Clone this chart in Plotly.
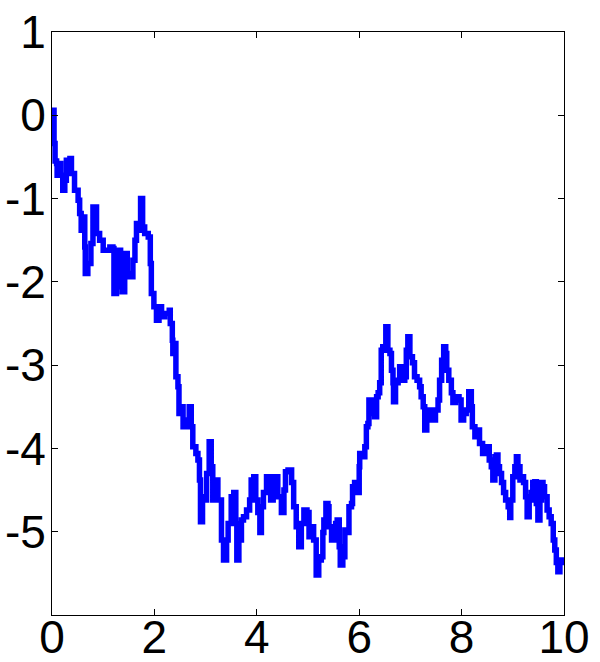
import plotly.graph_objects as go

# Path samples (time, value)
t_vals = [0.00, 0.02, 0.04, 0.06, 0.09, 0.10, 0.15, 0.17, 0.21, 0.25, 0.28, 0.35, 0.38, 0.44, 0.51, 0.54,
          0.57, 0.61, 0.64, 0.65, 0.70, 0.76, 0.80, 0.85, 0.87, 0.93, 1.00, 1.06, 1.13, 1.19, 1.21, 1.26,
          1.29, 1.34, 1.37, 1.42, 1.47, 1.52, 1.58, 1.62, 1.65, 1.70, 1.73, 1.77, 1.81, 1.88, 1.92, 1.94,
          1.99, 2.04, 2.09, 2.14, 2.20, 2.29, 2.31, 2.35, 2.36, 2.40, 2.42, 2.46, 2.48, 2.53, 2.56, 2.62,
          2.68, 2.72, 2.75, 2.81, 2.85, 2.88, 2.90, 2.94, 2.98, 3.02, 3.07, 3.11, 3.14, 3.20, 3.24, 3.28,
          3.31, 3.35, 3.41, 3.44, 3.50, 3.55, 3.59, 3.61, 3.65, 3.70, 3.74, 3.80, 3.86, 3.89, 3.94, 3.98,
          4.02, 4.06, 4.09, 4.13, 4.19, 4.24, 4.27, 4.32, 4.35, 4.41, 4.48, 4.53, 4.56, 4.61, 4.68, 4.72,
          4.77, 4.82, 4.87, 4.92, 4.98, 5.02, 5.07, 5.11, 5.16, 5.21, 5.26, 5.29, 5.31, 5.35, 5.39, 5.41,
          5.46, 5.50, 5.54, 5.57, 5.61, 5.63, 5.68, 5.72, 5.78, 5.80, 5.85, 5.87, 5.91, 5.96, 6.00, 6.01,
          6.07, 6.11, 6.14, 6.17, 6.19, 6.24, 6.27, 6.30, 6.34, 6.37, 6.40, 6.43, 6.46, 6.52, 6.56, 6.60,
          6.63, 6.66, 6.67, 6.71, 6.76, 6.79, 6.84, 6.89, 6.92, 6.95, 6.99, 7.04, 7.08, 7.13, 7.18, 7.21,
          7.25, 7.28, 7.32, 7.38, 7.44, 7.49, 7.54, 7.57, 7.61, 7.65, 7.69, 7.71, 7.75, 7.80, 7.83, 7.88,
          7.95, 7.99, 8.04, 8.09, 8.14, 8.19, 8.21, 8.26, 8.30, 8.35, 8.41, 8.45, 8.50, 8.54, 8.58, 8.61,
          8.65, 8.68, 8.71, 8.74, 8.78, 8.82, 8.86, 8.91, 8.94, 8.96, 9.00, 9.04, 9.07, 9.10, 9.14, 9.19,
          9.21, 9.25, 9.28, 9.32, 9.36, 9.39, 9.43, 9.46, 9.49, 9.53, 9.56, 9.59, 9.62, 9.67, 9.71, 9.75,
          9.79, 9.82, 9.85, 9.88, 9.92, 9.95, 9.98, 10.00]
w_vals = [0.05, 0.06, -0.34, -0.55, -0.58, -0.72, -0.58, -0.72, -0.90, -0.78, -0.54, -0.52, -0.70, -0.90, -1.02, -1.18,
          -1.38, -1.22, -1.58, -1.90, -1.78, -1.54, -1.10, -1.10, -1.42, -1.50, -1.62, -1.62, -1.58, -1.60, -2.14, -2.06,
          -1.62, -1.90, -2.12, -1.66, -1.90, -1.94, -1.74, -1.50, -1.30, -1.38, -1.00, -1.34, -1.42, -1.46, -1.78, -2.14,
          -2.30, -2.46, -2.30, -2.42, -2.38, -2.34, -2.50, -2.70, -2.86, -2.74, -3.14, -3.26, -3.58, -3.50, -3.74, -3.66,
          -3.50, -3.74, -3.98, -4.06, -4.14, -4.38, -4.88, -4.58, -4.62, -4.30, -3.92, -4.22, -4.62, -4.38, -4.62, -4.62,
          -5.10, -5.34, -5.10, -4.90, -4.58, -4.53, -4.90, -5.34, -5.10, -4.86, -4.82, -4.74, -4.62, -4.38, -4.34, -4.62,
          -4.77, -5.01, -4.70, -4.53, -4.34, -4.34, -4.62, -4.41, -4.34, -4.58, -4.77, -4.50, -4.28, -4.26, -4.41, -4.70,
          -4.94, -5.18, -4.90, -4.74, -4.77, -5.06, -4.94, -5.10, -5.52, -5.34, -5.30, -5.01, -4.86, -4.66, -4.70, -4.94,
          -5.10, -5.10, -4.90, -4.86, -5.18, -5.40, -5.30, -4.98, -5.01, -4.70, -4.66, -4.46, -4.41, -4.53, -4.22, -4.06,
          -4.10, -3.98, -3.74, -3.70, -3.42, -3.58, -3.50, -3.62, -3.38, -3.33, -3.21, -2.82, -2.78, -2.54, -2.82, -2.86,
          -3.06, -3.21, -3.44, -3.21, -3.18, -3.02, -3.18, -3.14, -2.82, -2.66, -2.90, -2.97, -3.14, -3.18, -3.26, -3.38,
          -3.50, -3.78, -3.66, -3.54, -3.66, -3.54, -3.42, -3.18, -2.94, -2.78, -2.86, -3.06, -3.18, -3.33, -3.45, -3.38,
          -3.42, -3.66, -3.58, -3.54, -3.32, -3.50, -3.74, -3.86, -3.78, -3.94, -4.06, -3.98, -3.98, -4.14, -4.22, -4.38,
          -4.10, -4.08, -4.22, -4.30, -4.41, -4.53, -4.62, -4.70, -4.83, -4.62, -4.34, -4.22, -4.10, -4.22, -4.38, -4.34,
          -4.41, -4.58, -4.82, -4.62, -4.53, -4.41, -4.40, -4.66, -4.86, -4.62, -4.41, -4.46, -4.58, -4.74, -4.82, -4.90,
          -5.10, -5.22, -5.37, -5.48, -5.37, -5.34, -5.34, -5.34]

x_ticks = [0, 2, 4, 6, 8, 10]
x_tick_labels = ["0", "2", "4", "6", "8", "10"]
y_ticks = [-5, -4, -3, -2, -1, 0, 1]
y_tick_labels = ["-5", "-4", "-3", "-2", "-1", "0", "1"]

fig = go.Figure()
fig.add_trace(go.Scatter(x=t_vals, y=w_vals, mode="lines",
                         line=dict(color="#0000FF", width=5.5, shape="hv"), showlegend=False))

font = dict(family="Liberation Sans, Arial, sans-serif", size=46, color="black")
axis_common = dict(showgrid=False, zeroline=False, showline=True, linecolor="black", linewidth=1,
                   mirror="ticks", ticks="inside", ticklen=6, tickcolor="black", tickwidth=1,
                   tickfont=font)

fig.update_xaxes(range=[0, 10], tickvals=x_ticks, ticktext=x_tick_labels,
                 ticklabelstandoff=-18, **axis_common)
fig.update_yaxes(range=[-6, 1], tickvals=y_ticks, ticktext=y_tick_labels,
                 ticklabelstandoff=-4, **axis_common)

fig.update_layout(width=600, height=662, margin=dict(l=52, r=36, t=32, b=47, autoexpand=False),
                  plot_bgcolor="white", paper_bgcolor="white")

# remove the default page margin so the figure fills the window exactly
fig.write_html("out.html", config={"displayModeBar": False},
               post_script="document.body.style.margin='0';")
